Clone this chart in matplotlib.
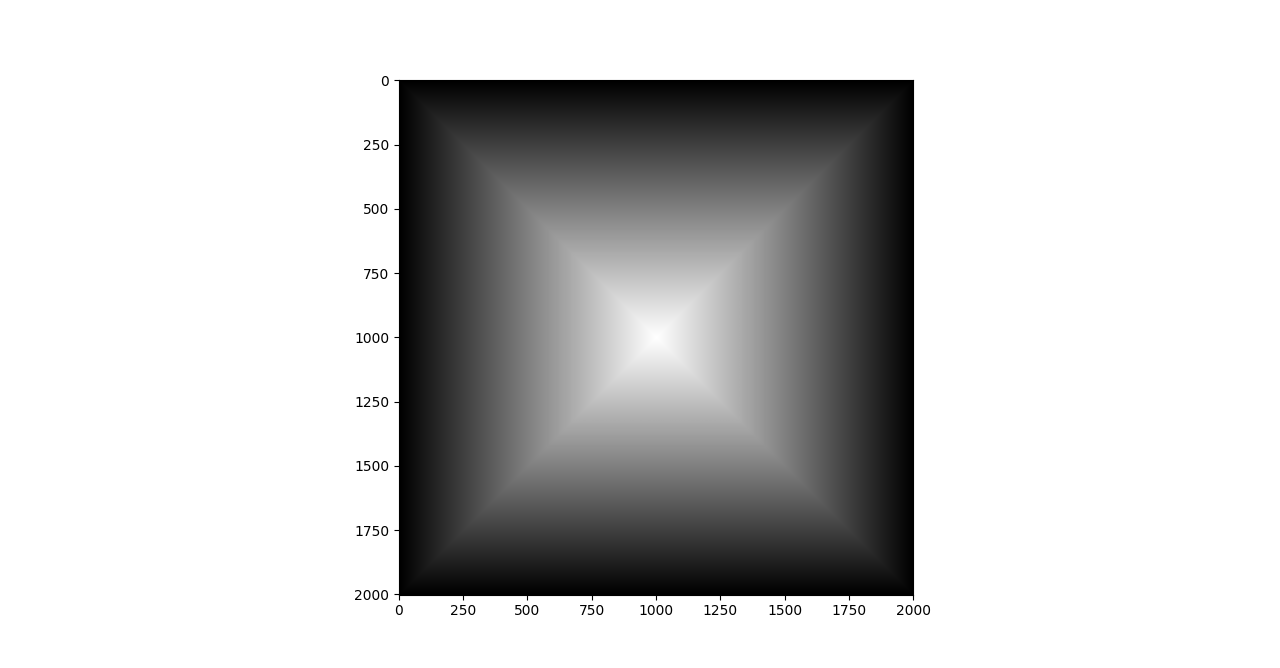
import numpy as np
import matplotlib
matplotlib.use("Agg")
import matplotlib.pyplot as plt

# grid size and peak position
n_pixels = 2001
center = 1000

# brightness = distance to nearest image edge (Chebyshev pyramid)
idx = np.arange(n_pixels)
edge_x = np.minimum(idx, n_pixels - 1 - idx)
edge_y = np.minimum(idx, n_pixels - 1 - idx)
image = np.minimum(edge_y[:, None], edge_x[None, :]).astype(float)

fig, ax = plt.subplots(figsize=(12.8, 6.68), dpi=100)
ax.imshow(image, cmap="gray")

plt.savefig("out.png", dpi=100)
plt.close()
